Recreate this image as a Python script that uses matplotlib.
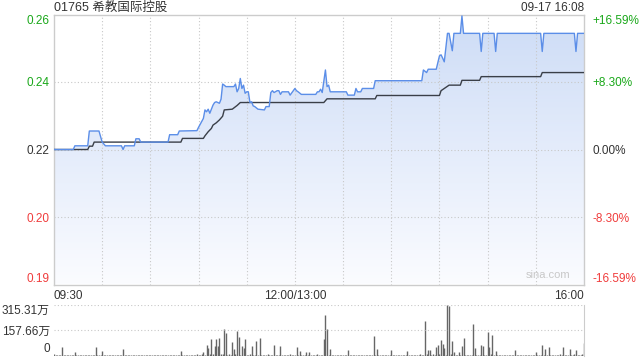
import numpy as np
import matplotlib.pyplot as plt
from matplotlib.colors import LinearSegmentedColormap

plt.rcParams['font.family'] = ['Liberation Sans', 'Noto Sans CJK SC', 'DejaVu Sans']

PREV_CLOSE = 0.22
PCT = 0.1659

# trading minutes since 09:30 (12:00/13:00 = 150, 16:00 = 330)
price_t = [0, 12, 13, 21, 22, 28, 30, 32, 42, 43, 44, 50, 51, 53, 54, 71, 72, 77, 78, 89,
           90, 93, 94, 95, 96, 97, 99, 100, 101, 103, 104, 105, 106, 107, 112, 113, 114, 115, 116, 117,
           118, 119, 120, 121, 122, 123, 124, 125, 127, 131, 132, 134, 135, 136, 137, 139, 140, 141, 142, 146,
           147, 149, 150, 151, 152, 154, 163, 164, 165, 166, 167, 169, 170, 171, 172, 182, 183, 187, 188, 189,
           191, 192, 199, 200, 229, 230, 232, 233, 238, 240, 241, 242, 243, 245, 246, 248, 249, 253, 254, 255,
           265, 266, 267, 274, 275, 276, 303, 304, 305, 324, 325, 326, 330]
price_v = [0.2200, 0.2200, 0.2210, 0.2210, 0.2250, 0.2250, 0.2220, 0.2210, 0.2210, 0.2200,
           0.2210, 0.2210, 0.2229, 0.2229, 0.2220, 0.2220, 0.2240, 0.2240, 0.2250, 0.2251,
           0.2260, 0.2284, 0.2307, 0.2302, 0.2309, 0.2298, 0.2320, 0.2327, 0.2329, 0.2325,
           0.2336, 0.2377, 0.2374, 0.2370, 0.2370, 0.2377, 0.2356, 0.2365, 0.2392, 0.2365,
           0.2374, 0.2352, 0.2356, 0.2356, 0.2327, 0.2329, 0.2318, 0.2316, 0.2309, 0.2307,
           0.2316, 0.2316, 0.2354, 0.2359, 0.2354, 0.2359, 0.2359, 0.2349, 0.2356, 0.2356,
           0.2347, 0.2359, 0.2365, 0.2359, 0.2356, 0.2349, 0.2349, 0.2356, 0.2356, 0.2363,
           0.2354, 0.2415, 0.2370, 0.2374, 0.2356, 0.2356, 0.2347, 0.2347, 0.2365, 0.2356,
           0.2356, 0.2365, 0.2365, 0.2386, 0.2386, 0.2415, 0.2408, 0.2417, 0.2417, 0.2453,
           0.2456, 0.2447, 0.2437, 0.2514, 0.2514, 0.2467, 0.2514, 0.2514, 0.2561, 0.2514,
           0.2514, 0.2465, 0.2514, 0.2514, 0.2465, 0.2514, 0.2514, 0.2465, 0.2514, 0.2514,
           0.2465, 0.2514, 0.2514]

avg_t = [0, 21, 22, 24, 25, 79, 80, 93, 94, 96, 98, 99, 101, 103, 105, 106, 111, 114, 116, 168,
         170, 200, 201, 240, 241, 246, 253, 254, 265, 266, 303, 304, 330]
avg_v = [0.2200, 0.2200, 0.2209, 0.2209, 0.2220, 0.2220, 0.2230, 0.2230, 0.2237, 0.2248,
         0.2257, 0.2266, 0.2272, 0.2280, 0.2290, 0.2307, 0.2309, 0.2319, 0.2327, 0.2327,
         0.2337, 0.2337, 0.2346, 0.2346, 0.2359, 0.2374, 0.2374, 0.2387, 0.2387, 0.2397,
         0.2397, 0.2408, 0.2408]

# volume per minute, unit: 万
volume = [10, 4, 6, 3, 5, 55, 4, 3, 6, 2, 5, 3, 4, 19, 3, 5, 2, 6, 3, 4,
          5, 3, 4, 6, 2, 3, 55, 4, 3, 5, 30, 6, 3, 4, 2, 5, 3, 4, 6, 3,
          4, 2, 5, 38, 6, 3, 4, 5, 2, 3, 4, 6, 3, 5, 2, 4, 3, 5, 6, 3,
          4, 5, 3, 2, 6, 4, 3, 5, 4, 2, 3, 6, 4, 3, 5, 2, 4, 6, 3, 28,
          5, 3, 4, 6, 2, 5, 3, 4, 6, 8, 5, 3, 10, 19, 6, 66, 48, 8, 101, 12,
          59, 101, 59, 107, 12, 8, 167, 142, 6, 10, 5, 82, 38, 8, 151, 114, 6, 59, 48, 101,
          6, 4, 8, 59, 5, 3, 88, 6, 107, 5, 3, 6, 4, 8, 3, 5, 4, 65, 6, 3,
          5, 57, 4, 3, 6, 5, 3, 8, 4, 6, 5, 50, 6, 30, 4, 5, 3, 19, 6, 19,
          4, 6, 3, 5, 8, 4, 6, 5, 101, 250, 167, 6, 41, 5, 4, 3, 6, 4, 5, 3,
          5, 4, 6, 32, 3, 5, 4, 6, 3, 5, 4, 3, 6, 5, 4, 3, 6, 4, 5, 123,
          6, 38, 4, 5, 3, 6, 4, 5, 3, 6, 32, 4, 5, 3, 6, 4, 5, 3, 6, 4,
          27, 5, 3, 6, 4, 5, 3, 6, 8, 5, 6, 218, 8, 32, 32, 6, 10, 5, 52, 63,
          8, 98, 74, 44, 6, 315, 312, 8, 91, 19, 5, 6, 19, 4, 60, 110, 6, 4, 5, 3,
          6, 199, 44, 5, 4, 6, 63, 60, 5, 6, 145, 52, 8, 129, 5, 27, 4, 6, 3, 5,
          4, 6, 3, 5, 4, 6, 3, 32, 5, 4, 6, 3, 5, 4, 6, 3, 5, 4, 6, 3,
          23, 5, 4, 6, 63, 5, 38, 4, 55, 6, 3, 5, 4, 6, 3, 8, 5, 55, 4, 6,
          5, 38, 6, 4, 8, 32, 6, 5, 4, 8, 76]
VOL_MAX = 315.31

left_labels = ['0.26', '0.24', '0.22', '0.20', '0.19']
right_labels = ['+16.59%', '+8.30%', '0.00%', '-8.30%', '-16.59%']
pct_levels = [PCT, 0.083, 0.0, -0.083, -PCT]
label_colors = ['#1aa81a', '#1aa81a', '#333333', '#f03c3c', '#f03c3c']
x_ticks = [0, 150, 330]
x_labels = ['09:30', '12:00/13:00', '16:00']

GRID = '#c8c8c8'
BORDER = '#cccccc'
TXT = '#333333'

fig = plt.figure(figsize=(6.4, 3.6), dpi=100)
ax = fig.add_axes([54 / 640, 1 - 284.5 / 360, 530 / 640, 270 / 360])
lo, hi = PREV_CLOSE * (1 - PCT), PREV_CLOSE * (1 + PCT)
ax.set_xlim(0, 330)
ax.set_ylim(lo, hi)

# gradient fill under the price line
cmap = LinearSegmentedColormap.from_list('fill', ['#fbfcff', '#e4ecfb', '#cddcf6'])
poly = ax.fill_between(price_t, price_v, lo, color='none', lw=0)
grad = np.linspace(0, 1, 256).reshape(-1, 1)
img = ax.imshow(grad, cmap=cmap, aspect='auto', extent=[0, 330, lo, hi], origin='lower', zorder=1)
img.set_clip_path(poly.get_paths()[0], transform=ax.transData)

ax.plot(price_t, price_v, color='#5b8ee8', lw=1.0, zorder=4)
ax.plot(avg_t, avg_v, color='#3a3f48', lw=1.0, zorder=3)

# grid
for m in range(30, 330, 30):
    ax.axvline(m, color=GRID, lw=0.8, ls=(0, (1, 2)), zorder=2)
for p in [0.083, 0.0, -0.083]:
    ax.axhline(PREV_CLOSE * (1 + p), color=GRID, lw=0.8, ls=(0, (1, 2)), zorder=2)

for s in ax.spines.values():
    s.set_color(BORDER)
    s.set_linewidth(1)

yt = [PREV_CLOSE * (1 + p) for p in pct_levels]
ax.set_yticks(yt)
ax.set_yticklabels(left_labels, fontsize=8.5)
ax.tick_params(axis='y', length=0, pad=3)
ax.set_xticks(x_ticks)
ax.set_xticklabels(x_labels, fontsize=8.5, color=TXT)
ax.tick_params(axis='x', length=0, pad=4)
xl = ax.get_xticklabels()
xl[0].set_ha('left')
xl[-1].set_ha('right')

ax2 = ax.twinx()
ax2.set_ylim(lo, hi)
ax2.set_yticks(yt)
ax2.set_yticklabels(right_labels, fontsize=8.5)
ax2.tick_params(axis='y', length=0, pad=6)
for s in ax2.spines.values():
    s.set_visible(False)

for labels in (ax.get_yticklabels(), ax2.get_yticklabels()):
    for lab, c in zip(labels, label_colors):
        lab.set_color(c)
    labels[0].set_va('top')
    labels[-1].set_va('bottom')

fig.text(54 / 640, 1 - 7.5 / 360, '01765 希教国际控股', fontsize=9,
         color=TXT, ha='left', va='center')
fig.text(584 / 640, 1 - 8 / 360, '09-17 16:08', fontsize=8.5,
         color=TXT, ha='right', va='center')
ax.text(0.975, 0.015, 'sina.com', transform=ax.transAxes, fontsize=8,
        color='#c8c8c8', ha='right', va='bottom', zorder=5)

# volume panel
vax = fig.add_axes([54 / 640, 1 - 355.5 / 360, 530 / 640, 50.5 / 360])
vax.set_xlim(0, 330)
vax.set_ylim(0, VOL_MAX)
vax.vlines(np.arange(len(volume)), 0, volume, color='#666666', lw=1.0)
vax.axhline(VOL_MAX, color=GRID, lw=0.8, ls=(0, (1, 2)))
vax.axhline(VOL_MAX / 2, color=GRID, lw=0.8, ls=(0, (1, 2)))
for k in ['top', 'left', 'bottom']:
    vax.spines[k].set_visible(False)
vax.spines['right'].set_color(BORDER)
vax.set_xticks([])
vax.set_yticks([VOL_MAX, VOL_MAX / 2, 0])
vax.set_yticklabels(['315.31万', '157.66万', '0'], fontsize=8.5, color=TXT)
vax.tick_params(axis='y', length=0, pad=3)
vl = vax.get_yticklabels()
vl[0].set_va('top')
vl[-1].set_va('bottom')

fig.savefig('out.png', dpi=100)
